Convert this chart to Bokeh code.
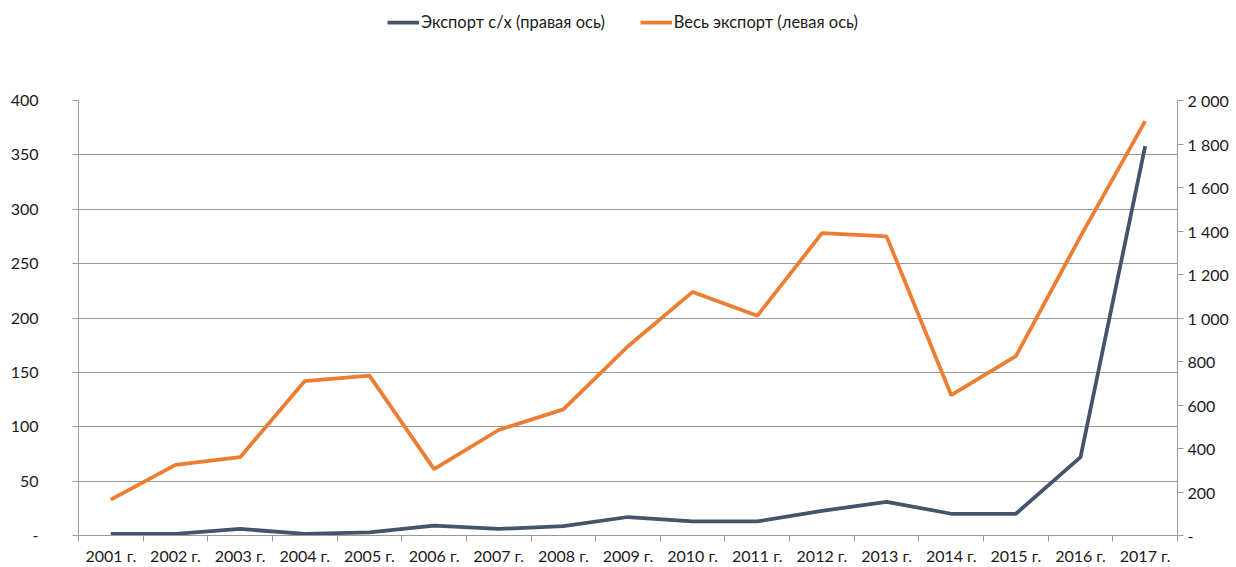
from bokeh.plotting import figure
from bokeh.models import (Range1d, LinearAxis, FixedTicker, Legend, LegendItem,
                          ColumnDataSource)
from bokeh.layouts import column
from bokeh.embed import file_html
from bokeh.resources import INLINE

years = ["2001 г.", "2002 г.", "2003 г.", "2004 г.", "2005 г.", "2006 г.", "2007 г.",
         "2008 г.", "2009 г.", "2010 г.", "2011 г.", "2012 г.", "2013 г.", "2014 г.",
         "2015 г.", "2016 г.", "2017 г."]
total_export = [33, 65, 72, 142, 147, 61, 97, 116, 174, 224, 202, 278, 275, 129, 165, 275, 381]
agri_export = [8, 8, 30, 8, 14, 45, 30, 43, 85, 65, 65, 113, 155, 100, 100, 360, 1790]
left_ticks = [0, 50, 100, 150, 200, 250, 300, 350, 400]
right_ticks = [0, 200, 400, 600, 800, 1000, 1200, 1400, 1600, 1800, 2000]
series_names = ["Экспорт с/х (правая ось)", "Весь экспорт (левая ось)"]

FONT = "Lato"
TXT = "#1a1a1a"
GRID = "#999999"
ORANGE = "#ED7D31"
DARK = "#44546A"
FS = "16px"

n = len(years)
xs = [i + 0.5 for i in range(n)]
src = ColumnDataSource(dict(x=xs, total=total_export, agri=agri_export))

# ---- legend strip (top) ----
top = figure(width=1236, height=90, output_backend="svg", toolbar_location=None,
             x_axis_location=None, y_axis_location=None,
             x_range=Range1d(0, 1), y_range=Range1d(0, 1),
             min_border_left=78, min_border_right=59, min_border_top=0, min_border_bottom=0)
top.outline_line_color = None
top.xgrid.visible = False
top.ygrid.visible = False
# placeholder renderers (outside the visible range) that only supply legend swatches
offscreen = ColumnDataSource(dict(x=[-5, -4], y=[-5, -5]))
l_agri = top.line("x", "y", source=offscreen, line_color=DARK, line_width=3.75)
l_total = top.line("x", "y", source=offscreen, line_color=ORANGE, line_width=3.75)
legend = Legend(items=[LegendItem(label=series_names[0], renderers=[l_agri]),
                       LegendItem(label=series_names[1], renderers=[l_total])],
                orientation="horizontal", location=(309, 58),
                border_line_alpha=0, background_fill_alpha=0,
                glyph_width=32, glyph_height=16, label_standoff=2, spacing=35,
                padding=0, margin=0,
                label_text_font=FONT, label_text_font_size="16.5px", label_text_color=TXT)
top.add_layout(legend)

# ---- main chart ----
p = figure(width=1236, height=477, output_backend="svg", toolbar_location=None,
           x_range=Range1d(0, n), y_range=Range1d(0, 400),
           min_border_left=78, min_border_right=59, min_border_top=10, min_border_bottom=30)
p.outline_line_color = None
p.extra_y_ranges = {"right": Range1d(0, 2000)}

# x axis
p.xaxis.ticker = FixedTicker(ticks=xs, minor_ticks=list(range(n + 1)))
p.xaxis.major_label_overrides = {x: y for x, y in zip(xs, years)}
p.xaxis.major_tick_out = 0
p.xaxis.major_tick_in = 0
p.xaxis.minor_tick_out = 6
p.xaxis.minor_tick_in = 0
p.xaxis.minor_tick_line_color = GRID
p.xaxis.axis_line_color = GRID
p.xaxis.major_label_standoff = 4
p.xaxis.major_label_text_font = FONT
p.xaxis.major_label_text_font_size = FS
p.xaxis.major_label_text_color = TXT

# left axis
p.yaxis.ticker = FixedTicker(ticks=left_ticks)
p.yaxis.major_label_overrides = {t: ("-" if t == 0 else str(t)) for t in left_ticks}
p.yaxis.major_tick_out = 6
p.yaxis.major_tick_in = 0
p.yaxis.minor_tick_line_color = None
p.yaxis.major_tick_line_color = GRID
p.yaxis.axis_line_color = GRID
p.yaxis.major_label_standoff = 34
p.yaxis.major_label_text_font = FONT
p.yaxis.major_label_text_font_size = FS
p.yaxis.major_label_text_color = TXT

# right axis
def fmt(v):
    if v == 0:
        return "-"
    return f"{v:,}".replace(",", " ")

raxis = LinearAxis(y_range_name="right", ticker=FixedTicker(ticks=right_ticks))
raxis.major_label_overrides = {t: fmt(t) for t in right_ticks}
raxis.major_tick_out = 6
raxis.major_tick_in = 0
raxis.minor_tick_line_color = None
raxis.major_tick_line_color = GRID
raxis.axis_line_color = GRID
raxis.major_label_standoff = 4
raxis.major_label_text_font = FONT
raxis.major_label_text_font_size = FS
raxis.major_label_text_color = TXT
p.add_layout(raxis, "right")

p.xgrid.grid_line_color = None
p.ygrid.grid_line_color = GRID
p.ygrid.grid_line_width = 1

p.line("x", "total", source=src, line_color=ORANGE, line_width=3.75)
p.line("x", "agri", source=src, line_color=DARK, line_width=3.75, y_range_name="right")

layout = column(top, p, spacing=0)
open("out.html", "w").write(file_html(layout, INLINE))
